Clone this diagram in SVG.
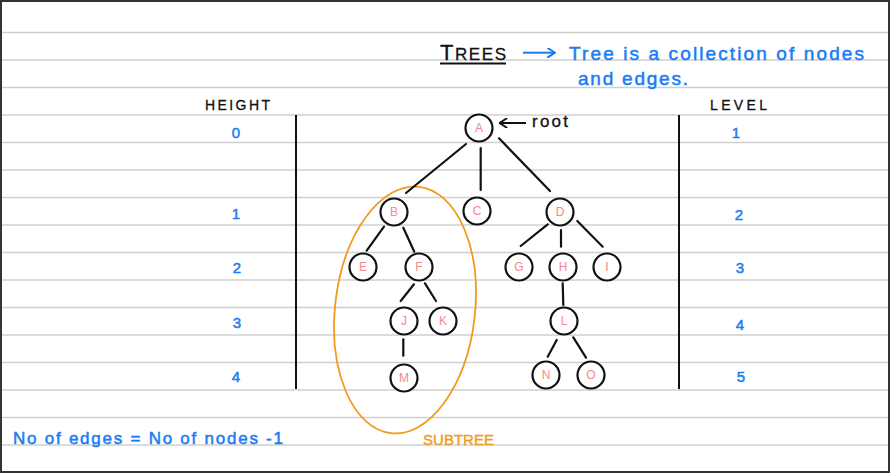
<svg xmlns="http://www.w3.org/2000/svg" width="890" height="473" viewBox="0 0 890 473">
<style>
.rule{stroke:#cfcfcf;stroke-width:1.5}
.axis{stroke:#111;stroke-width:2}
.node circle{fill:#fff;stroke:#111;stroke-width:2.2}
.node text{font-family:"Liberation Sans",sans-serif;font-size:12px;fill:#f48a8a;text-anchor:middle}
.edge{stroke:#111;stroke-width:2.2;stroke-linecap:round;fill:none}
.blue{font-family:"Liberation Sans",sans-serif;fill:#1a7cf5;stroke:#1a7cf5;stroke-width:0.5}
.blk{font-family:"Liberation Sans",sans-serif;fill:#111;stroke:#111;stroke-width:0.3}
.num{font-size:15px;text-anchor:middle}
</style>
<defs>
<marker id="openBlk" viewBox="0 0 10 10" refX="9" refY="5" markerWidth="10" markerHeight="10" markerUnits="userSpaceOnUse" orient="auto">
<path d="M2,0.5 L9,5 L2,9.5" fill="none" stroke="#111" stroke-width="2" stroke-linecap="round"/>
</marker>
<marker id="openBlue" viewBox="0 0 10 10" refX="9" refY="5" markerWidth="10" markerHeight="10" markerUnits="userSpaceOnUse" orient="auto">
<path d="M2,0.5 L9,5 L2,9.5" fill="none" stroke="#1a7cf5" stroke-width="2" stroke-linecap="round"/>
</marker>
</defs>
<rect x="0" y="0" width="890" height="473" fill="#fff"/>
<g id="rules">
<line class="rule" x1="0" y1="32.5" x2="890" y2="32.5"/>
<line class="rule" x1="0" y1="60" x2="890" y2="60"/>
<line class="rule" x1="0" y1="87.5" x2="890" y2="87.5"/>
<line class="rule" x1="0" y1="115" x2="890" y2="115"/>
<line class="rule" x1="0" y1="142.5" x2="890" y2="142.5"/>
<line class="rule" x1="0" y1="170" x2="890" y2="170"/>
<line class="rule" x1="0" y1="197.5" x2="890" y2="197.5"/>
<line class="rule" x1="0" y1="225" x2="890" y2="225"/>
<line class="rule" x1="0" y1="252.5" x2="890" y2="252.5"/>
<line class="rule" x1="0" y1="280" x2="890" y2="280"/>
<line class="rule" x1="0" y1="307.5" x2="890" y2="307.5"/>
<line class="rule" x1="0" y1="335" x2="890" y2="335"/>
<line class="rule" x1="0" y1="362.5" x2="890" y2="362.5"/>
<line class="rule" x1="0" y1="390" x2="890" y2="390"/>
<line class="rule" x1="0" y1="417.5" x2="890" y2="417.5"/>
<line class="rule" x1="0" y1="445" x2="890" y2="445"/>
</g>
<rect x="1" y="1" width="888" height="471" fill="none" stroke="#333" stroke-width="2"/>
<line class="axis" x1="296" y1="115" x2="296" y2="389"/>
<line class="axis" x1="679" y1="115" x2="679" y2="389"/>
<g id="title">
<text class="blk" x="440" y="60" textLength="66" lengthAdjust="spacing"><tspan font-size="22">T</tspan><tspan font-size="17">REES</tspan></text>
<line x1="440" y1="63.5" x2="506" y2="63.5" stroke="#111" stroke-width="2.2"/>
<line x1="523" y1="52.7" x2="555" y2="52.7" stroke="#1a7cf5" stroke-width="2" marker-end="url(#openBlue)"/>
<text class="blue" x="569" y="60" font-size="19" textLength="295" lengthAdjust="spacing">Tree is a collection of nodes</text>
<text class="blue" x="578" y="85" font-size="19" textLength="110" lengthAdjust="spacing">and edges.</text>
</g>
<text class="blk" x="205" y="110" font-size="14" textLength="65" lengthAdjust="spacing">HEIGHT</text>
<text class="blk" x="710" y="110" font-size="14" textLength="57" lengthAdjust="spacing">LEVEL</text>
<g id="heights" class="blue num">
<text x="236" y="138">0</text>
<text x="236" y="219">1</text>
<text x="237" y="273">2</text>
<text x="237" y="328">3</text>
<text x="236" y="382">4</text>
</g>
<g id="levels" class="blue num">
<text x="736" y="138">1</text>
<text x="739" y="220">2</text>
<text x="740" y="273">3</text>
<text x="740" y="330">4</text>
<text x="741" y="382">5</text>
</g>
<ellipse id="subtree" cx="405" cy="310" rx="70" ry="124" transform="rotate(6.5 405 310)" fill="none" stroke="#f39a1e" stroke-width="1.8"/>
<g id="connectors">
<line class="edge" x1="466" y1="144" x2="406" y2="193"/>
<line class="edge" x1="480.7" y1="148" x2="480.7" y2="190"/>
<line class="edge" x1="499" y1="138.3" x2="550" y2="191"/>
<line class="edge" x1="384" y1="226.7" x2="366.7" y2="250.7"/>
<line class="edge" x1="403.3" y1="227.7" x2="414.3" y2="251.7"/>
<line class="edge" x1="414" y1="284.3" x2="400.7" y2="301"/>
<line class="edge" x1="425" y1="283.3" x2="436" y2="301"/>
<line class="edge" x1="403.3" y1="339.3" x2="403.3" y2="355.7"/>
<line class="edge" x1="547.7" y1="224.3" x2="520.7" y2="246"/>
<line class="edge" x1="561" y1="230" x2="561" y2="246.7"/>
<line class="edge" x1="577.3" y1="221" x2="602.7" y2="246.7"/>
<line class="edge" x1="562.7" y1="283.3" x2="563.3" y2="305"/>
<line class="edge" x1="556.7" y1="340" x2="547.7" y2="356.7"/>
<line class="edge" x1="573.3" y1="337.3" x2="586" y2="357.7"/>
<line x1="526" y1="123" x2="499.5" y2="123" stroke="#111" stroke-width="2" marker-end="url(#openBlk)"/>
</g>
<text class="blk" x="532" y="127" font-size="17" textLength="36" lengthAdjust="spacing">root</text>
<g id="nA" class="node"><circle cx="479" cy="128" r="13.5"/><text x="479" y="132.3">A</text></g>
<g id="nB" class="node"><circle cx="394" cy="212" r="13.5"/><text x="394" y="216.3">B</text></g>
<g id="nC" class="node"><circle cx="477" cy="211" r="13.5"/><text x="477" y="215.3">C</text></g>
<g id="nD" class="node"><circle cx="560" cy="212" r="13.5"/><text x="560" y="216.3">D</text></g>
<g id="nE" class="node"><circle cx="363" cy="267" r="13.5"/><text x="363" y="271.3">E</text></g>
<g id="nF" class="node"><circle cx="419" cy="267" r="13.5"/><text x="419" y="271.3">F</text></g>
<g id="nG" class="node"><circle cx="519" cy="267" r="13.5"/><text x="519" y="271.3">G</text></g>
<g id="nH" class="node"><circle cx="563" cy="267" r="13.5"/><text x="563" y="271.3">H</text></g>
<g id="nI" class="node"><circle cx="607" cy="267" r="13.5"/><text x="607" y="271.3">I</text></g>
<g id="nJ" class="node"><circle cx="404" cy="321" r="13.5"/><text x="404" y="325.3">J</text></g>
<g id="nK" class="node"><circle cx="443" cy="321" r="13.5"/><text x="443" y="325.3">K</text></g>
<g id="nL" class="node"><circle cx="564" cy="321" r="13.5"/><text x="564" y="325.3">L</text></g>
<g id="nM" class="node"><circle cx="404" cy="378" r="13.5"/><text x="404" y="382.3">M</text></g>
<g id="nN" class="node"><circle cx="546" cy="375" r="13.5"/><text x="546" y="379.3">N</text></g>
<g id="nO" class="node"><circle cx="591" cy="375" r="13.5"/><text x="591" y="379.3">O</text></g>
<text class="blue" x="13" y="444" font-size="17" textLength="270" lengthAdjust="spacing">No of edges = No of nodes -1</text>
<text x="423" y="445" font-family="Liberation Sans, sans-serif" font-size="15" fill="#f39a1e" stroke="#f39a1e" stroke-width="0.4" textLength="71" lengthAdjust="spacing">SUBTREE</text>
</svg>
